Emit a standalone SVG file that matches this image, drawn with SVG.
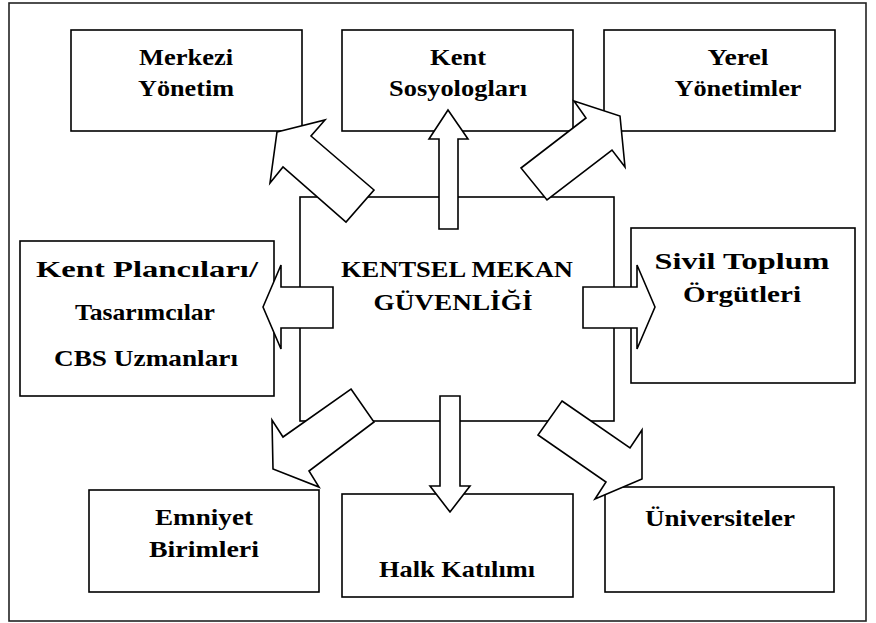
<svg xmlns="http://www.w3.org/2000/svg" width="876" height="623" viewBox="0 0 876 623">
<style>
.box{fill:#fff;stroke:#000;stroke-width:1.6}
.arr{fill:#fff;stroke:#000;stroke-width:1.6;stroke-linejoin:miter}
.t{font-family:"Liberation Serif","Times New Roman",serif;font-weight:bold;font-size:23.5px;text-anchor:middle;fill:#000}
</style>
<rect x="0" y="0" width="876" height="623" fill="#fff"/>
<rect x="9" y="3" width="857" height="618" fill="none" stroke="#222" stroke-width="1.6"/>
<g id="merkezi"><rect class="box" x="71" y="30" width="231" height="101"/>
<text class="t" x="186" y="65" textLength="94" lengthAdjust="spacingAndGlyphs">Merkezi</text>
<text class="t" x="186" y="96" textLength="96" lengthAdjust="spacingAndGlyphs">Yönetim</text></g>
<g id="kent-sosyologlari"><rect class="box" x="342" y="30" width="231" height="101"/>
<text class="t" x="458" y="65" textLength="56" lengthAdjust="spacingAndGlyphs">Kent</text>
<text class="t" x="458" y="96" textLength="138" lengthAdjust="spacingAndGlyphs">Sosyologları</text></g>
<g id="yerel"><rect class="box" x="604" y="30" width="231" height="101"/>
<text class="t" x="738" y="65" textLength="61" lengthAdjust="spacingAndGlyphs">Yerel</text>
<text class="t" x="738" y="96" textLength="127" lengthAdjust="spacingAndGlyphs">Yönetimler</text></g>
<g id="merkez"><rect class="box" x="300" y="197" width="314" height="224"/>
<text class="t" x="457" y="277" textLength="232" lengthAdjust="spacingAndGlyphs">KENTSEL MEKAN</text>
<text class="t" x="453" y="310" textLength="159" lengthAdjust="spacingAndGlyphs">GÜVENLİĞİ</text></g>
<g id="kent-plancilari"><rect class="box" x="20" y="241" width="254" height="155"/>
<text class="t" x="147" y="277" textLength="222" lengthAdjust="spacingAndGlyphs">Kent Plancıları/</text>
<text class="t" x="145" y="320" textLength="140" lengthAdjust="spacingAndGlyphs">Tasarımcılar</text>
<text class="t" x="146" y="366" textLength="184" lengthAdjust="spacingAndGlyphs">CBS Uzmanları</text></g>
<g id="sivil"><rect class="box" x="631" y="228" width="224" height="155"/>
<text class="t" x="742" y="269" textLength="175" lengthAdjust="spacingAndGlyphs">Sivil Toplum</text>
<text class="t" x="742" y="302" textLength="118" lengthAdjust="spacingAndGlyphs">Örgütleri</text></g>
<g id="emniyet"><rect class="box" x="89" y="490" width="230" height="102"/>
<text class="t" x="204" y="525" textLength="98" lengthAdjust="spacingAndGlyphs">Emniyet</text>
<text class="t" x="204" y="557" textLength="110" lengthAdjust="spacingAndGlyphs">Birimleri</text></g>
<g id="halk"><rect class="box" x="342" y="494" width="231" height="103"/>
<text class="t" x="457" y="577" textLength="156" lengthAdjust="spacingAndGlyphs">Halk Katılımı</text></g>
<g id="universiteler"><rect class="box" x="605" y="487" width="229" height="105"/>
<text class="t" x="720" y="526" textLength="150" lengthAdjust="spacingAndGlyphs">Üniversiteler</text></g>
<g id="connectors">
<polygon class="arr" points="277,132 325,120 311,136 374,190 346,222 283,167 270,183"/>
<polygon class="arr" points="448,110 468,139 458,139 458,229 439,229 439,139 429,139"/>
<polygon class="arr" points="574,101 620,116 625,167 612,150 547,200 521,168 586,118"/>
<polygon class="arr" points="263,307 281,265 281,287 333,287 333,328 281,328 281,349"/>
<polygon class="arr" points="655,307 637,265 637,287 583,287 583,328 637,328 637,349"/>
<polygon class="arr" points="351,389 374,422 309,471 319,487 273,469 272,420 283,437"/>
<polygon class="arr" points="440,396 460,396 460,486 470,486 450,512 430,486 440,486"/>
<polygon class="arr" points="562,401 630,448 642,430 642,479 595,499 606,482 538,435"/>
</g>
</svg>
